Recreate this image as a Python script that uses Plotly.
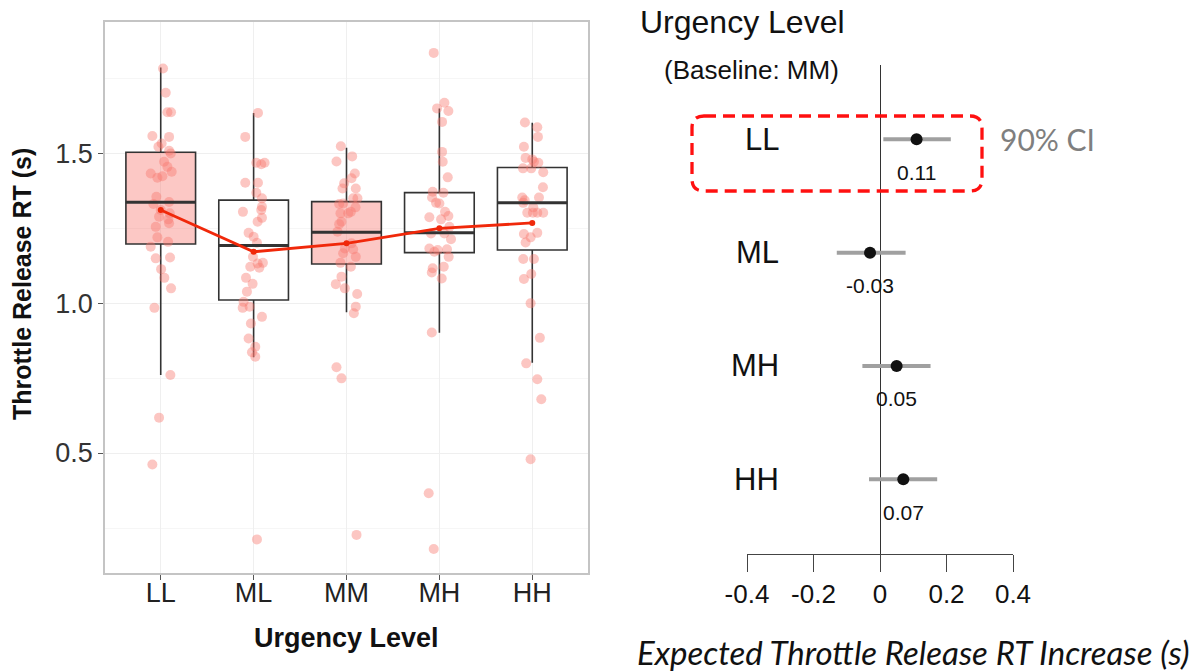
import plotly.graph_objects as go

# ---------------- data: left panel (box plot) ----------------
categories = ["LL", "ML", "MM", "MH", "HH"]
q1 = [1.197, 1.010, 1.130, 1.168, 1.177]
median = [1.336, 1.192, 1.236, 1.234, 1.334]
q3 = [1.503, 1.343, 1.338, 1.368, 1.452]
lower_whisker = [0.760, 0.819, 0.969, 0.901, 0.801]
upper_whisker = [1.785, 1.634, 1.518, 1.649, 1.601]
means = [1.310, 1.171, 1.199, 1.249, 1.267]
highlighted = ["LL", "MM"]

rt_LL = [1.782, 1.701, 1.636, 1.636, 1.557, 1.554, 1.532, 1.521, 1.508, 1.499, 1.471, 1.454,
         1.438, 1.432, 1.418, 1.423, 1.354, 1.330, 1.337, 1.310, 1.299, 1.288, 1.279, 1.266,
         1.254, 1.219, 1.204, 1.188, 1.149, 1.152, 1.113, 1.084, 1.049, 0.984, 0.760, 0.618, 0.462]
jit_LL = [0.025, 0.054, 0.072, 0.111, -0.090, 0.090, 0.010, -0.025, 0.090, 0.108, 0.036, 0.072,
          0.118, -0.108, -0.036, 0.018, -0.047, -0.079, 0.090, 0.000, 0.097, -0.018, 0.082, 0.090,
          -0.054, -0.036, 0.079, -0.108, -0.054, 0.100, 0.004, 0.039, 0.111, -0.068, 0.104, -0.018, -0.090]

rt_ML = [1.634, 1.554, 1.468, 1.463, 1.468, 1.401, 1.401, 1.368, 1.349, 1.321, 1.310, 1.304,
         1.284, 1.271, 1.234, 1.221, 1.201, 1.154, 1.132, 1.121, 1.134, 1.118, 1.084, 1.064,
         1.038, 1.004, 0.984, 0.988, 0.954, 0.932, 0.882, 0.854, 0.836, 0.821, 0.212]
jit_ML = [0.047, -0.090, 0.029, 0.082, 0.118, -0.090, 0.047, 0.029, 0.090, 0.090, 0.082, -0.115,
          0.090, 0.043, -0.054, 0.000, 0.036, -0.007, 0.043, -0.036, 0.100, 0.061, -0.082, -0.011,
          -0.072, -0.108, -0.118, -0.043, 0.090, -0.029, -0.054, 0.018, -0.018, 0.018, 0.036]

rt_MM = [1.523, 1.489, 1.472, 1.432, 1.416, 1.399, 1.382, 1.382, 1.349, 1.349, 1.330, 1.332,
         1.319, 1.304, 1.299, 1.299, 1.271, 1.263, 1.238, 1.199, 1.182, 1.179, 1.166, 1.154,
         1.134, 1.121, 1.088, 1.063, 1.049, 1.030, 0.988, 0.966, 0.786, 0.749, 0.227]
jit_MM = [-0.061, 0.061, -0.108, 0.090, 0.054, -0.025, -0.043, 0.100, 0.072, 0.118, -0.079, -0.036,
          0.097, 0.047, 0.018, -0.065, -0.054, -0.079, -0.097, 0.054, -0.018, 0.072, -0.036, 0.100,
          -0.065, 0.047, -0.054, -0.115, -0.018, 0.115, 0.100, 0.079, -0.108, -0.054, 0.108]

rt_MH = [1.834, 1.668, 1.649, 1.640, 1.604, 1.504, 1.471, 1.419, 1.371, 1.368, 1.352, 1.334,
         1.332, 1.304, 1.290, 1.286, 1.279, 1.254, 1.232, 1.232, 1.213, 1.182, 1.171, 1.177,
         1.179, 1.154, 1.121, 1.116, 1.102, 1.082, 0.902, 0.366, 0.180]
jit_MH = [-0.061, 0.054, -0.025, 0.097, 0.029, 0.029, 0.036, 0.090, -0.072, 0.043, -0.079, -0.036,
          0.000, 0.061, 0.097, -0.108, 0.018, 0.108, -0.090, 0.054, 0.125, -0.108, -0.054, -0.018,
          0.082, 0.100, 0.047, -0.072, -0.082, 0.025, -0.082, -0.115, -0.061]

rt_HH = [1.602, 1.586, 1.554, 1.521, 1.484, 1.479, 1.471, 1.468, 1.449, 1.449, 1.436, 1.386,
         1.352, 1.343, 1.352, 1.334, 1.319, 1.301, 1.301, 1.301, 1.301, 1.230, 1.234, 1.219,
         1.202, 1.147, 1.147, 1.097, 1.080, 0.999, 0.884, 0.799, 0.746, 0.679, 0.479]
jit_HH = [-0.079, 0.054, 0.061, -0.090, -0.072, 0.000, 0.018, 0.065, -0.100, -0.011, 0.118, 0.115,
          -0.108, -0.082, 0.072, -0.097, 0.011, -0.054, 0.007, 0.054, 0.118, -0.090, 0.054, -0.018,
          -0.072, -0.097, 0.018, -0.011, -0.090, -0.018, 0.082, -0.065, 0.054, 0.097, -0.018]

rt_points = [rt_LL, rt_ML, rt_MM, rt_MH, rt_HH]
jitters = [jit_LL, jit_ML, jit_MM, jit_MH, jit_HH]

# ---------------- data: right panel (coefficient plot) ----------------
levels = ["LL", "ML", "MH", "HH"]
level_rows = [4, 3, 2, 1]
estimate = [0.11, -0.03, 0.05, 0.07]
ci_low = [0.010, -0.130, -0.053, -0.033]
ci_high = [0.213, 0.077, 0.152, 0.172]
estimate_labels = ["0.11", "-0.03", "0.05", "0.07"]
x2_ticks = [-0.4, -0.2, 0.0, 0.2, 0.4]
x2_ticktext = ["-0.4", "-0.2", "0", "0.2", "0.4"]

W, H = 1201, 672
def px(x):
    return x / W
def py(y):
    return 1 - y / H

fig = go.Figure()

BOX_W = 0.75
ARIAL = "Liberation Sans, Arial, sans-serif"
PT_COLOR = "rgba(248,118,109,0.42)"

# boxes
for i, cat in enumerate(categories):
    fill = "rgba(248,118,109,0.40)" if cat in highlighted else "rgba(255,255,255,1)"
    fig.add_trace(go.Box(
        x=[i], q1=[q1[i]], median=[median[i]], q3=[q3[i]],
        lowerfence=[lower_whisker[i]], upperfence=[upper_whisker[i]],
        width=BOX_W, fillcolor=fill, line=dict(color="#333333", width=1.6),
        whiskerwidth=0, boxpoints=False, showlegend=False, hoverinfo="skip",
        xaxis="x", yaxis="y"))

# jittered points
for i, cat in enumerate(categories):
    fig.add_trace(go.Scatter(
        x=[i + j for j in jitters[i]], y=rt_points[i], mode="markers",
        marker=dict(size=10, color=PT_COLOR, line=dict(width=0)),
        showlegend=False, hoverinfo="skip", xaxis="x", yaxis="y"))

# thick medians
for i, cat in enumerate(categories):
    fig.add_trace(go.Scatter(
        x=[i - BOX_W / 2, i + BOX_W / 2], y=[median[i], median[i]], mode="lines",
        line=dict(color="#333333", width=3), showlegend=False, hoverinfo="skip",
        xaxis="x", yaxis="y"))

# mean line
fig.add_trace(go.Scatter(
    x=list(range(len(categories))), y=means, mode="lines+markers",
    line=dict(color="#F0280A", width=2.8), marker=dict(color="#F0280A", size=6),
    showlegend=False, hoverinfo="skip", xaxis="x", yaxis="y"))

# right panel CIs
for k in range(len(levels)):
    fig.add_trace(go.Scatter(
        x=[ci_low[k], ci_high[k]], y=[level_rows[k], level_rows[k]], mode="lines",
        line=dict(color="#A0A0A0", width=4), showlegend=False, hoverinfo="skip",
        xaxis="x2", yaxis="y2"))
fig.add_trace(go.Scatter(
    x=estimate, y=level_rows, mode="markers",
    marker=dict(color="#111111", size=12), showlegend=False, hoverinfo="skip",
    xaxis="x2", yaxis="y2", cliponaxis=False))

annotations = []
# right panel row labels and estimate labels
for k in range(len(levels)):
    annotations.append(dict(x=px(781), xref="paper", y=level_rows[k], yref="y2",
                            text=levels[k], showarrow=False, xanchor="right", yanchor="middle",
                            font=dict(family=ARIAL, size=31, color="#111111")))
    annotations.append(dict(x=estimate[k], xref="x2", y=level_rows[k], yref="y2",
                            text=estimate_labels[k], showarrow=False, xanchor="center",
                            yanchor="middle", yshift=-33,
                            font=dict(family=ARIAL, size=21, color="#111111")))

annotations += [
    dict(x=px(638), y=py(22), xref="paper", yref="paper", text="Urgency Level",
         showarrow=False, xanchor="left", yanchor="middle",
         font=dict(family=ARIAL, size=32, color="#111111")),
    dict(x=px(662), y=py(70), xref="paper", yref="paper", text="(Baseline: MM)",
         showarrow=False, xanchor="left", yanchor="middle",
         font=dict(family=ARIAL, size=26, color="#111111")),
    dict(x=px(998), y=py(139), xref="paper", yref="paper", text="90% CI",
         showarrow=False, xanchor="left", yanchor="middle",
         font=dict(family="Lato, sans-serif", size=30, color="#7F7F7F")),
    dict(x=px(1192), y=py(652), xref="paper", yref="paper",
         text="<i>Expected Throttle Release RT Increase (s)</i>",
         showarrow=False, xanchor="right", yanchor="middle",
         font=dict(family="Lato, sans-serif", size=33, color="#111111")),
    dict(x=px(22), y=py(284), xref="paper", yref="paper",
         text="<b>Throttle Release RT (s)</b>", textangle=-90,
         showarrow=False, xanchor="center", yanchor="middle",
         font=dict(family=ARIAL, size=25, color="#111111")),
    dict(x=px(346), y=py(638), xref="paper", yref="paper",
         text="<b>Urgency Level</b>",
         showarrow=False, xanchor="center", yanchor="middle",
         font=dict(family=ARIAL, size=27, color="#111111")),
]

# dashed rounded rectangle highlighting LL
x0, x1, y0, y1, r = px(692), px(982), py(116), py(191), 12
rx, ry = r / W, r / H
path = (f"M {x0+rx},{y0} L {x1-rx},{y0} Q {x1},{y0} {x1},{y0-ry} "
        f"L {x1},{y1+ry} Q {x1},{y1} {x1-rx},{y1} "
        f"L {x0+rx},{y1} Q {x0},{y1} {x0},{y1+ry} "
        f"L {x0},{y0-ry} Q {x0},{y0} {x0+rx},{y0} Z")
shapes = [dict(type="path", path=path, xref="paper", yref="paper",
               line=dict(color="#FF1010", width=3.3, dash="12px,7px"))]

fig.update_layout(
    width=W, height=H, margin=dict(l=0, r=0, t=0, b=0, autoexpand=False),
    paper_bgcolor="white", plot_bgcolor="white", boxmode="overlay",
    annotations=annotations, shapes=shapes,
    xaxis=dict(domain=[px(105), px(588)], range=[-0.6, 4.6],
               tickvals=list(range(len(categories))), ticktext=categories,
               showgrid=True, gridcolor="#EFEFEF", gridwidth=1, zeroline=False,
               showline=True, mirror=True, linecolor="#C4C4C4", linewidth=1.5,
               ticks="outside", ticklen=5, tickcolor="#555555", automargin=False,
               ticklabelstandoff=-10,
               tickfont=dict(family=ARIAL, size=27, color="#222222"), anchor="y"),
    yaxis=dict(domain=[py(573), py(22)], range=[0.1, 1.937],
               tickvals=[0.5, 1.0, 1.5], ticktext=["0.5", "1.0", "1.5"],
               showgrid=True, gridcolor="#EFEFEF", gridwidth=1, zeroline=False,
               minor=dict(showgrid=True, gridcolor="#F6F6F6", dtick=0.25, tick0=0),
               showline=True, mirror=True, linecolor="#C4C4C4", linewidth=1.5,
               ticks="outside", ticklen=5, tickcolor="#555555", automargin=False,
               tickfont=dict(family=ARIAL, size=27, color="#333333"), anchor="x"),
    xaxis2=dict(domain=[px(747), px(1013)], range=[-0.4, 0.4],
                tickvals=x2_ticks, ticktext=x2_ticktext,
                showgrid=False, zeroline=True, zerolinecolor="#333333", zerolinewidth=1.2,
                showline=True, linecolor="#444444", linewidth=1.3, automargin=False,
                ticks="outside", ticklen=17, tickwidth=1.3, tickcolor="#444444",
                tickfont=dict(family=ARIAL, size=26, color="#111111"), anchor="y2"),
    yaxis2=dict(domain=[py(554), py(65)], range=[0.341, 4.656], visible=False,
                anchor="x2"),
)

fig.write_html("out.html")
